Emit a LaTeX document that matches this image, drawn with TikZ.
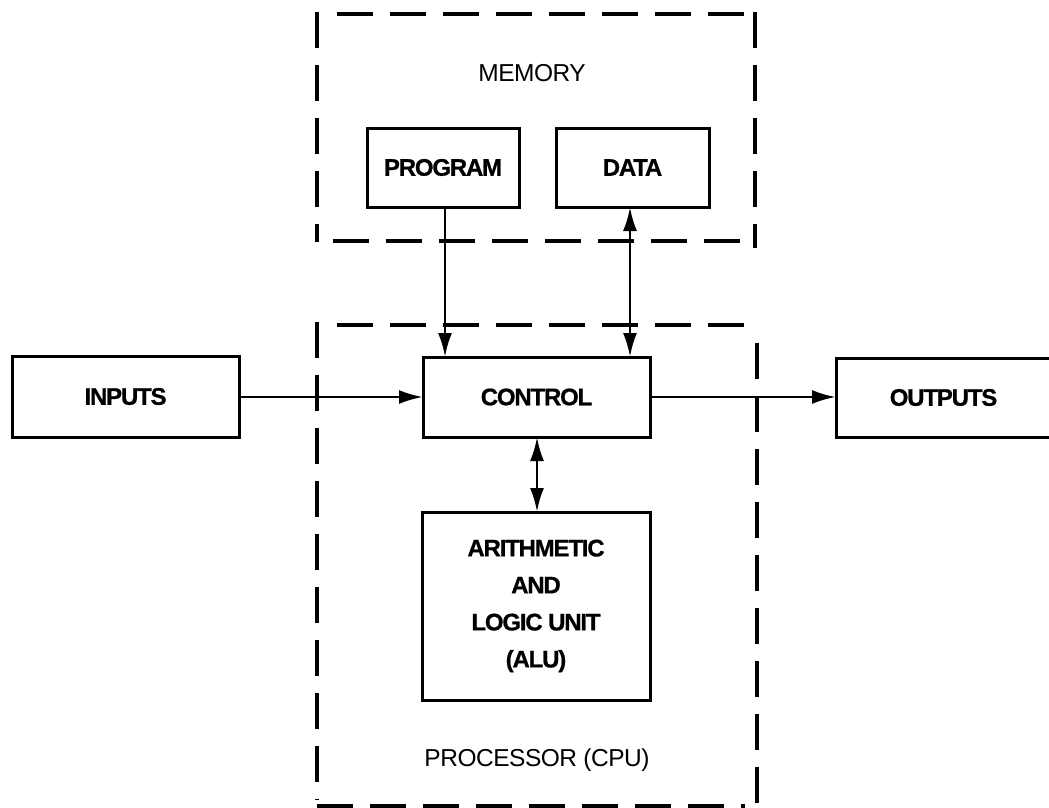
\documentclass[tikz,border=0pt]{standalone}
\usepackage{fontspec}
\setmainfont{Liberation Sans}
\newfontfamily\unitfont{Liberation Sans Bold}[LetterSpace=-5, FakeBold=0.8]
\newfontfamily\labelfont{Liberation Sans}[LetterSpace=-2]
\usetikzlibrary{arrows.meta}
\begin{document}
\begin{tikzpicture}[x=1pt,y=-1pt,
  unitbox/.style={draw, line width=3pt, inner sep=0pt, outer sep=0pt,
    font=\unitfont\fontsize{24}{28}\selectfont},
  frame/.style={line width=4.8pt, dash pattern=on 36pt off 17pt},
  tip/.tip={Latex[length=24pt,width=14pt]},
  flow/.style={line width=2.8pt, -tip},
  both/.style={line width=2.8pt, tip-tip},
  caption/.style={font=\labelfont\fontsize{24.5}{28}\selectfont}]
\useasboundingbox (0,0) rectangle (1049,808);

% memory frame
\draw[frame] (317,12) -- (317,242);
\draw[frame] (755,12) -- (755,248);
\draw[frame] (337,14) -- (745,14);
\draw[frame] (333,241) -- (745,241);
\node[caption] (memlabel) at (532,73) {MEMORY};

% processor frame
\draw[frame] (317,322) -- (317,800);
\draw[frame] (757,343) -- (757,808);
\draw[frame] (337,325) -- (745,325);
\draw[frame] (317,806) -- (745,806);
\node[caption] (cpulabel) at (537,760) {PROCESSOR (CPU)};

% units
\node[unitbox, minimum width=152pt, minimum height=79pt] (prog) at (443,167.5) {PROGRAM};
\node[unitbox, minimum width=153pt, minimum height=79pt] (data) at (632.5,167.5) {DATA};
\node[unitbox, minimum width=227pt, minimum height=80pt] (ctrl) at (536.5,397) {CONTROL};
\node[unitbox, minimum width=228pt, minimum height=188pt, align=center,
      font=\unitfont\fontsize{24}{37}\selectfont] (alu) at (536,606)
      {ARITHMETIC\\AND\\LOGIC UNIT\\(ALU)};
\node[unitbox, minimum width=227pt, minimum height=81pt] (in) at (125.5,396.5) {INPUTS};
\node[unitbox, minimum width=215pt, minimum height=79pt] (out) at (943.5,397.5) {OUTPUTS};

% connections
\draw[flow] (prog.south -| 445,0) -- (ctrl.north -| 445,0);
\draw[both] (data.south -| 630,0) -- (ctrl.north -| 630,0);
\draw[both] (ctrl.south -| 537,0) -- (alu.north -| 537,0);
\draw[flow] (in.east |- 0,397) -- (ctrl.west |- 0,397);
\draw[flow] (ctrl.east |- 0,397) -- (out.west |- 0,397);
\end{tikzpicture}
\end{document}
